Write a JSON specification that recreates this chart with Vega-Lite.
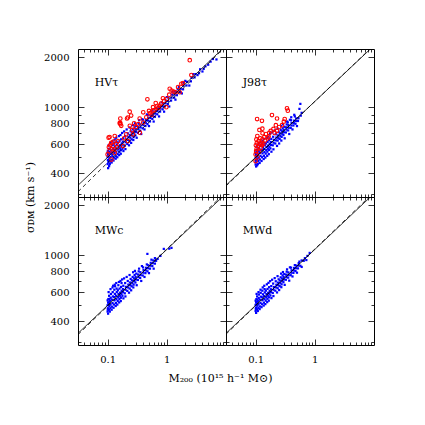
{
"$schema":"https://vega.github.io/schema/vega-lite/v6.json",
"padding":{"left":24,"top":48,"right":5,"bottom":5},
"autosize":{"type":"pad"},
"config":{"view":{"stroke":null},"font":"DejaVu Serif",
"axis":{"grid":false,"domainColor":"#000","domainWidth":1,"tickColor":"#000","tickWidth":0.8,"labelColor":"#000","labelFont":"DejaVu Serif","labelFontSize":10,"titleFont":"DejaVu Serif","titleFontWeight":"normal","titleColor":"#000","titleFontSize":11}},
"datasets":{
"lab":[{"p":"HVτ"},{"p":"J98τ"},{"p":"MWc"},{"p":"MWd"}],
"ln":[
{"p":"HVτ","k":"solid","M":0.0316228,"s":339},{"p":"HVτ","k":"solid","M":10,"s":2348},
{"p":"HVτ","k":"dashed","M":0.0316228,"s":310},{"p":"HVτ","k":"dashed","M":10,"s":2328},
{"p":"J98τ","k":"solid","M":0.0316228,"s":339},{"p":"J98τ","k":"solid","M":10,"s":2348},
{"p":"J98τ","k":"dashed","M":0.0316228,"s":336},{"p":"J98τ","k":"dashed","M":10,"s":2362},
{"p":"MWc","k":"solid","M":0.0316228,"s":339},{"p":"MWc","k":"solid","M":10,"s":2348},
{"p":"MWc","k":"dashed","M":0.0316228,"s":333},{"p":"MWc","k":"dashed","M":10,"s":2401},
{"p":"MWd","k":"solid","M":0.0316228,"s":339},{"p":"MWd","k":"solid","M":10,"s":2348},
{"p":"MWd","k":"dashed","M":0.0316228,"s":335},{"p":"MWd","k":"dashed","M":10,"s":2390}],
"b1":[{"M":0.100,"s":455},{"M":0.101,"s":482},{"M":0.100,"s":503},{"M":0.102,"s":521},{"M":0.101,"s":547},{"M":0.103,"s":468},{"M":0.104,"s":512},{"M":0.100,"s":533},
{"M":0.106,"s":442},{"M":0.107,"s":493},{"M":0.105,"s":517},{"M":0.108,"s":539},{"M":0.106,"s":562},
{"M":0.111,"s":471},{"M":0.112,"s":502},{"M":0.110,"s":526},{"M":0.113,"s":551},{"M":0.114,"s":577},
{"M":0.118,"s":483},{"M":0.121,"s":506},{"M":0.119,"s":536},{"M":0.123,"s":561},{"M":0.122,"s":592},{"M":0.120,"s":519},
{"M":0.128,"s":497},{"M":0.131,"s":531},{"M":0.129,"s":556},{"M":0.133,"s":581},{"M":0.130,"s":611},
{"M":0.138,"s":507},{"M":0.141,"s":541},{"M":0.139,"s":566},{"M":0.143,"s":596},{"M":0.142,"s":621},
{"M":0.148,"s":522},{"M":0.151,"s":556},{"M":0.153,"s":581},{"M":0.149,"s":611},
{"M":0.158,"s":537},{"M":0.161,"s":566},{"M":0.163,"s":591},{"M":0.159,"s":626},
{"M":0.168,"s":551},{"M":0.171,"s":581},{"M":0.173,"s":606},{"M":0.169,"s":641},
{"M":0.178,"s":562},{"M":0.182,"s":596},{"M":0.181,"s":621},{"M":0.184,"s":651},
{"M":0.195,"s":586},{"M":0.201,"s":616},{"M":0.204,"s":641},{"M":0.198,"s":671},
{"M":0.215,"s":601},{"M":0.221,"s":636},{"M":0.224,"s":661},{"M":0.219,"s":696},
{"M":0.236,"s":626},{"M":0.242,"s":656},{"M":0.238,"s":681},{"M":0.245,"s":716},
{"M":0.255,"s":641},{"M":0.262,"s":676},{"M":0.258,"s":701},{"M":0.265,"s":736},
{"M":0.275,"s":661},{"M":0.282,"s":696},{"M":0.279,"s":721},{"M":0.286,"s":756},
{"M":0.295,"s":676},{"M":0.302,"s":711},{"M":0.298,"s":736},{"M":0.305,"s":771},
{"M":0.325,"s":701},{"M":0.332,"s":736},{"M":0.328,"s":761},{"M":0.335,"s":796},
{"M":0.355,"s":721},{"M":0.362,"s":756},{"M":0.358,"s":786},
{"M":0.392,"s":746},{"M":0.401,"s":781},{"M":0.405,"s":811},{"M":0.398,"s":842},
{"M":0.435,"s":771},{"M":0.442,"s":806},{"M":0.447,"s":836},
{"M":0.472,"s":791},{"M":0.481,"s":831},{"M":0.485,"s":861},{"M":0.477,"s":896},
{"M":0.52,"s":821},{"M":0.53,"s":861},{"M":0.535,"s":891},
{"M":0.57,"s":851},{"M":0.58,"s":886},{"M":0.59,"s":916},{"M":0.575,"s":956},
{"M":0.63,"s":876},{"M":0.64,"s":916},{"M":0.65,"s":951},
{"M":0.69,"s":906},{"M":0.70,"s":946},{"M":0.71,"s":981},
{"M":0.77,"s":941},{"M":0.78,"s":981},{"M":0.79,"s":1016},
{"M":0.85,"s":971},{"M":0.86,"s":1011},{"M":0.87,"s":1051},
{"M":0.93,"s":1011},{"M":0.95,"s":1056},{"M":0.96,"s":1096},
{"M":1.04,"s":1046},{"M":1.05,"s":1091},{"M":1.07,"s":1141},
{"M":1.18,"s":1096},{"M":1.2,"s":1141},{"M":1.22,"s":1191},
{"M":1.33,"s":1141},{"M":1.35,"s":1191},{"M":1.38,"s":1241},
{"M":1.48,"s":1181},{"M":1.5,"s":1236},{"M":1.53,"s":1286},
{"M":1.68,"s":1231},{"M":1.72,"s":1291},
{"M":1.88,"s":1281},{"M":1.9,"s":1346},{"M":1.93,"s":1401},
{"M":2.15,"s":1351},{"M":2.2,"s":1421},
{"M":2.55,"s":1431},{"M":2.62,"s":1501},
{"M":2.95,"s":1511},{"M":3.05,"s":1581},
{"M":3.5,"s":1601},{"M":3.65,"s":1691},
{"M":4.2,"s":1701},{"M":5.0,"s":1801},{"M":6.9,"s":1937},
{"M":0.102,"s":430},{"M":0.104,"s":590},{"M":0.109,"s":455},{"M":0.112,"s":610},{"M":0.117,"s":465},{"M":0.121,"s":625},{"M":0.126,"s":478},{"M":0.132,"s":640},{"M":0.137,"s":490},{"M":0.14,"s":655},{"M":0.146,"s":500},{"M":0.155,"s":670},{"M":0.157,"s":515},{"M":0.165,"s":680},{"M":0.167,"s":525},{"M":0.176,"s":700},{"M":0.185,"s":545},{"M":0.19,"s":715},{"M":0.2,"s":560},{"M":0.21,"s":735},{"M":0.23,"s":590},{"M":0.235,"s":755},{"M":0.25,"s":610},{"M":0.27,"s":780},{"M":0.272,"s":635},{"M":0.29,"s":800},{"M":0.31,"s":655},{"M":0.34,"s":835},{"M":0.37,"s":690},{"M":0.38,"s":845},{"M":0.42,"s":735},{"M":0.46,"s":905},{"M":0.5,"s":770},{"M":0.55,"s":950},{"M":0.6,"s":820},{"M":0.66,"s":990},{"M":0.74,"s":880},{"M":0.82,"s":1070},{"M":0.9,"s":940},{"M":1.0,"s":1150},{"M":1.1,"s":1010},{"M":1.25,"s":1240},{"M":1.4,"s":1110},{"M":1.6,"s":1320},{"M":1.8,"s":1210},{"M":2.05,"s":1440},{"M":2.4,"s":1350},{"M":2.8,"s":1580},{"M":3.3,"s":1560},{"M":4.5,"s":1760},{"M":5.5,"s":1880},{"M":4.0,"s":1640},{"M":6.0,"s":1950}],
"r1":[{"M":2.44,"s":1919},{"M":0.47,"s":1115},{"M":1.12,"s":1291},{"M":0.86,"s":1132},{"M":0.585,"s":1000},{"M":0.59,"s":953},{"M":0.236,"s":940},{"M":0.22,"s":867},{"M":0.164,"s":855},{"M":0.16,"s":801},{"M":0.213,"s":855},{"M":0.25,"s":890},{"M":0.165,"s":790},{"M":0.348,"s":855},{"M":0.40,"s":931},{"M":1.55,"s":1321},{"M":1.76,"s":1384},{"M":1.65,"s":1230},{"M":1.4,"s":1230},{"M":0.76,"s":1021},{"M":0.98,"s":1000},
{"M":0.104,"s":656},{"M":0.108,"s":662},{"M":0.132,"s":671},{"M":0.15,"s":626},{"M":0.163,"s":809},{"M":0.17,"s":773},{"M":0.237,"s":773},{"M":0.207,"s":687},{"M":0.268,"s":687},{"M":0.35,"s":703},{"M":0.40,"s":809},{"M":0.108,"s":545},{"M":0.116,"s":484},{"M":0.132,"s":531},{"M":0.182,"s":584},{"M":0.22,"s":626},
{"M":0.3,"s":760},{"M":0.33,"s":790},{"M":0.45,"s":870},{"M":0.52,"s":920},{"M":0.55,"s":900},{"M":0.62,"s":960},{"M":0.68,"s":1010},{"M":0.72,"s":990},{"M":0.8,"s":1050},{"M":0.9,"s":1090},{"M":1.0,"s":1120},{"M":1.2,"s":1260},{"M":1.3,"s":1240},{"M":0.12,"s":560},{"M":0.14,"s":600},{"M":0.11,"s":590},{"M":0.125,"s":620},{"M":0.19,"s":650},{"M":0.26,"s":730},{"M":0.5,"s":950},{"M":0.28,"s":800},{"M":0.145,"s":575},{"M":0.1,"s":520},{"M":0.105,"s":575},{"M":0.115,"s":610},{"M":0.13,"s":560},{"M":1.88,"s":1397},{"M":2.6,"s":1560},{"M":1.1,"s":1190},{"M":0.65,"s":1060}],
"b2":[{"M":0.100,"s":452},{"M":0.101,"s":478},{"M":0.100,"s":497},{"M":0.102,"s":515},{"M":0.103,"s":538},{"M":0.101,"s":466},{"M":0.104,"s":505},{"M":0.100,"s":528},
{"M":0.106,"s":447},{"M":0.107,"s":488},{"M":0.105,"s":512},{"M":0.108,"s":535},{"M":0.106,"s":556},
{"M":0.111,"s":474},{"M":0.112,"s":498},{"M":0.110,"s":521},{"M":0.113,"s":546},{"M":0.114,"s":570},
{"M":0.118,"s":485},{"M":0.121,"s":510},{"M":0.119,"s":532},{"M":0.123,"s":556},{"M":0.122,"s":585},
{"M":0.128,"s":500},{"M":0.131,"s":528},{"M":0.129,"s":552},{"M":0.133,"s":576},{"M":0.130,"s":603},
{"M":0.138,"s":510},{"M":0.141,"s":538},{"M":0.139,"s":561},{"M":0.143,"s":590},{"M":0.142,"s":612},
{"M":0.148,"s":526},{"M":0.151,"s":552},{"M":0.153,"s":577},{"M":0.149,"s":605},
{"M":0.158,"s":540},{"M":0.161,"s":563},{"M":0.163,"s":588},{"M":0.159,"s":618},
{"M":0.168,"s":553},{"M":0.171,"s":578},{"M":0.173,"s":602},{"M":0.169,"s":633},
{"M":0.178,"s":565},{"M":0.182,"s":593},{"M":0.181,"s":617},{"M":0.184,"s":645},
{"M":0.195,"s":590},{"M":0.201,"s":612},{"M":0.204,"s":637},{"M":0.198,"s":664},
{"M":0.215,"s":605},{"M":0.221,"s":632},{"M":0.224,"s":657},{"M":0.219,"s":688},
{"M":0.236,"s":630},{"M":0.242,"s":653},{"M":0.238,"s":677},{"M":0.245,"s":708},
{"M":0.255,"s":645},{"M":0.262,"s":672},{"M":0.258,"s":697},{"M":0.265,"s":728},
{"M":0.275,"s":663},{"M":0.282,"s":692},{"M":0.279,"s":716},{"M":0.286,"s":747},
{"M":0.295,"s":680},{"M":0.302,"s":707},{"M":0.298,"s":731},{"M":0.305,"s":762},
{"M":0.325,"s":705},{"M":0.332,"s":733},{"M":0.328,"s":757},{"M":0.335,"s":788},
{"M":0.355,"s":725},{"M":0.362,"s":752},{"M":0.358,"s":780},
{"M":0.392,"s":750},{"M":0.401,"s":777},{"M":0.405,"s":805},{"M":0.398,"s":835},
{"M":0.435,"s":776},{"M":0.442,"s":803},{"M":0.447,"s":830},
{"M":0.472,"s":795},{"M":0.481,"s":826},{"M":0.485,"s":856},
{"M":0.52,"s":826},{"M":0.53,"s":858},{"M":0.55,"s":977},
{"M":0.57,"s":1047},{"M":0.58,"s":890},{"M":0.6,"s":925},
{"M":0.102,"s":440},{"M":0.104,"s":580},{"M":0.109,"s":455},{"M":0.112,"s":600},{"M":0.117,"s":462},{"M":0.121,"s":615},{"M":0.126,"s":475},{"M":0.132,"s":630},{"M":0.137,"s":488},{"M":0.14,"s":645},{"M":0.146,"s":498},{"M":0.155,"s":655},{"M":0.157,"s":510},{"M":0.165,"s":665},{"M":0.167,"s":522},{"M":0.176,"s":690},{"M":0.185,"s":540},{"M":0.19,"s":705},{"M":0.2,"s":558},{"M":0.21,"s":725},{"M":0.23,"s":585},{"M":0.235,"s":745},{"M":0.25,"s":605},{"M":0.27,"s":770},{"M":0.272,"s":630},{"M":0.29,"s":790},{"M":0.31,"s":650},{"M":0.34,"s":820},{"M":0.37,"s":690},{"M":0.38,"s":840},{"M":0.42,"s":735},{"M":0.46,"s":880},{"M":0.5,"s":770},{"M":0.45,"s":900},{"M":0.4,"s":870},{"M":0.35,"s":810}],
"r2":[{"M":0.106,"s":848},{"M":0.128,"s":828},{"M":0.189,"s":897},{"M":0.23,"s":855},{"M":0.339,"s":984},{"M":0.35,"s":953},{"M":0.31,"s":848},{"M":0.116,"s":730},{"M":0.13,"s":743},{"M":0.23,"s":720},{"M":0.131,"s":697},{"M":0.166,"s":665},{"M":0.1,"s":473},
{"M":0.100,"s":520},{"M":0.102,"s":545},{"M":0.104,"s":560},{"M":0.101,"s":590},{"M":0.105,"s":610},{"M":0.108,"s":500},{"M":0.11,"s":580},{"M":0.112,"s":625},{"M":0.115,"s":540},{"M":0.118,"s":600},{"M":0.12,"s":650},{"M":0.122,"s":570},{"M":0.125,"s":610},{"M":0.128,"s":590},{"M":0.13,"s":640},{"M":0.135,"s":600},{"M":0.14,"s":660},{"M":0.145,"s":630},{"M":0.15,"s":690},{"M":0.16,"s":650},{"M":0.17,"s":700},{"M":0.18,"s":720},{"M":0.2,"s":740},{"M":0.21,"s":700},{"M":0.25,"s":760},{"M":0.28,"s":780},{"M":0.3,"s":820},{"M":0.22,"s":780},{"M":0.103,"s":640},{"M":0.107,"s":670}],
"b3":[{"M":0.100,"s":458},{"M":0.101,"s":480},{"M":0.100,"s":500},{"M":0.102,"s":520},{"M":0.103,"s":545},{"M":0.101,"s":470},{"M":0.104,"s":510},{"M":0.100,"s":535},
{"M":0.106,"s":470},{"M":0.107,"s":495},{"M":0.105,"s":520},{"M":0.108,"s":545},{"M":0.106,"s":570},
{"M":0.111,"s":480},{"M":0.112,"s":505},{"M":0.110,"s":530},{"M":0.113,"s":555},{"M":0.114,"s":585},
{"M":0.118,"s":490},{"M":0.121,"s":515},{"M":0.119,"s":540},{"M":0.123,"s":565},{"M":0.122,"s":600},{"M":0.124,"s":655},
{"M":0.128,"s":505},{"M":0.131,"s":535},{"M":0.129,"s":560},{"M":0.133,"s":585},{"M":0.130,"s":620},{"M":0.134,"s":650},
{"M":0.138,"s":515},{"M":0.141,"s":545},{"M":0.139,"s":570},{"M":0.143,"s":600},{"M":0.142,"s":630},
{"M":0.148,"s":530},{"M":0.151,"s":560},{"M":0.153,"s":585},{"M":0.149,"s":615},{"M":0.152,"s":660},
{"M":0.158,"s":545},{"M":0.161,"s":570},{"M":0.163,"s":595},{"M":0.159,"s":630},
{"M":0.168,"s":555},{"M":0.171,"s":585},{"M":0.173,"s":610},{"M":0.169,"s":645},{"M":0.172,"s":680},
{"M":0.178,"s":570},{"M":0.182,"s":600},{"M":0.181,"s":625},{"M":0.184,"s":655},
{"M":0.195,"s":590},{"M":0.201,"s":620},{"M":0.204,"s":645},{"M":0.198,"s":680},
{"M":0.215,"s":610},{"M":0.221,"s":640},{"M":0.224,"s":665},{"M":0.219,"s":700},
{"M":0.236,"s":630},{"M":0.242,"s":660},{"M":0.238,"s":685},{"M":0.245,"s":720},
{"M":0.255,"s":650},{"M":0.262,"s":680},{"M":0.258,"s":705},{"M":0.265,"s":740},
{"M":0.275,"s":665},{"M":0.282,"s":700},{"M":0.279,"s":725},{"M":0.286,"s":760},
{"M":0.295,"s":685},{"M":0.302,"s":715},{"M":0.298,"s":740},{"M":0.305,"s":775},
{"M":0.325,"s":710},{"M":0.332,"s":740},{"M":0.328,"s":765},{"M":0.335,"s":800},
{"M":0.355,"s":730},{"M":0.362,"s":760},{"M":0.358,"s":790},
{"M":0.392,"s":755},{"M":0.401,"s":785},{"M":0.405,"s":815},{"M":0.398,"s":845},
{"M":0.435,"s":780},{"M":0.442,"s":810},{"M":0.447,"s":840},
{"M":0.472,"s":800},{"M":0.481,"s":835},{"M":0.485,"s":870},
{"M":0.52,"s":830},{"M":0.53,"s":865},{"M":0.535,"s":900},
{"M":0.57,"s":860},{"M":0.58,"s":895},{"M":0.59,"s":930},
{"M":0.63,"s":890},{"M":0.64,"s":925},{"M":0.47,"s":1018},{"M":0.66,"s":926},
{"M":0.7,"s":950},{"M":0.78,"s":990},{"M":0.89,"s":1091},{"M":1.1,"s":1095},{"M":1.2,"s":1107},
{"M":0.102,"s":445},{"M":0.104,"s":600},{"M":0.109,"s":458},{"M":0.112,"s":625},{"M":0.117,"s":470},{"M":0.121,"s":640},{"M":0.126,"s":483},{"M":0.132,"s":665},{"M":0.137,"s":495},{"M":0.14,"s":680},{"M":0.146,"s":505},{"M":0.155,"s":690},{"M":0.157,"s":520},{"M":0.165,"s":700},{"M":0.167,"s":530},{"M":0.176,"s":715},{"M":0.185,"s":550},{"M":0.19,"s":725},{"M":0.2,"s":565},{"M":0.21,"s":740},{"M":0.23,"s":595},{"M":0.235,"s":760},{"M":0.25,"s":615},{"M":0.27,"s":790},{"M":0.272,"s":640},{"M":0.29,"s":805},{"M":0.31,"s":660},{"M":0.34,"s":830},{"M":0.37,"s":700},{"M":0.38,"s":860},{"M":0.42,"s":740},{"M":0.46,"s":880},{"M":0.5,"s":780},{"M":0.55,"s":940},{"M":0.6,"s":830},{"M":0.63,"s":960}],
"b4":[{"M":0.100,"s":462},{"M":0.101,"s":485},{"M":0.100,"s":503},{"M":0.102,"s":522},{"M":0.103,"s":544},{"M":0.101,"s":474},{"M":0.104,"s":512},{"M":0.100,"s":533},
{"M":0.106,"s":472},{"M":0.107,"s":497},{"M":0.105,"s":520},{"M":0.108,"s":541},{"M":0.106,"s":565},
{"M":0.111,"s":482},{"M":0.112,"s":507},{"M":0.110,"s":529},{"M":0.113,"s":553},{"M":0.114,"s":580},
{"M":0.118,"s":492},{"M":0.121,"s":517},{"M":0.119,"s":540},{"M":0.123,"s":563},{"M":0.122,"s":594},
{"M":0.128,"s":507},{"M":0.131,"s":536},{"M":0.129,"s":558},{"M":0.133,"s":582},{"M":0.130,"s":612},
{"M":0.138,"s":518},{"M":0.141,"s":546},{"M":0.139,"s":568},{"M":0.143,"s":597},{"M":0.142,"s":625},
{"M":0.148,"s":533},{"M":0.151,"s":560},{"M":0.153,"s":584},{"M":0.149,"s":612},
{"M":0.158,"s":547},{"M":0.161,"s":571},{"M":0.163,"s":594},{"M":0.159,"s":627},
{"M":0.168,"s":558},{"M":0.171,"s":586},{"M":0.173,"s":609},{"M":0.169,"s":642},
{"M":0.178,"s":572},{"M":0.182,"s":600},{"M":0.181,"s":624},{"M":0.184,"s":652},
{"M":0.195,"s":593},{"M":0.201,"s":620},{"M":0.204,"s":644},{"M":0.198,"s":675},
{"M":0.215,"s":612},{"M":0.221,"s":640},{"M":0.224,"s":664},{"M":0.219,"s":697},
{"M":0.236,"s":633},{"M":0.242,"s":660},{"M":0.238,"s":684},{"M":0.245,"s":716},
{"M":0.255,"s":652},{"M":0.262,"s":680},{"M":0.258,"s":704},{"M":0.265,"s":736},
{"M":0.275,"s":668},{"M":0.282,"s":700},{"M":0.279,"s":724},{"M":0.286,"s":756},
{"M":0.295,"s":688},{"M":0.302,"s":715},{"M":0.298,"s":739},{"M":0.305,"s":770},
{"M":0.325,"s":712},{"M":0.332,"s":740},{"M":0.328,"s":764},{"M":0.335,"s":796},
{"M":0.355,"s":733},{"M":0.362,"s":760},{"M":0.358,"s":788},
{"M":0.392,"s":758},{"M":0.401,"s":785},{"M":0.405,"s":812},{"M":0.398,"s":842},
{"M":0.435,"s":783},{"M":0.442,"s":810},{"M":0.447,"s":838},
{"M":0.472,"s":803},{"M":0.481,"s":835},{"M":0.485,"s":866},
{"M":0.52,"s":833},{"M":0.53,"s":866},{"M":0.535,"s":897},
{"M":0.57,"s":864},{"M":0.6,"s":930},{"M":0.65,"s":925},{"M":0.75,"s":990},{"M":0.82,"s":1032},
{"M":0.102,"s":450},{"M":0.104,"s":585},{"M":0.109,"s":462},{"M":0.112,"s":600},{"M":0.117,"s":474},{"M":0.121,"s":620},{"M":0.126,"s":487},{"M":0.132,"s":640},{"M":0.137,"s":498},{"M":0.14,"s":655},{"M":0.146,"s":508},{"M":0.155,"s":668},{"M":0.157,"s":522},{"M":0.165,"s":682},{"M":0.167,"s":533},{"M":0.176,"s":698},{"M":0.185,"s":552},{"M":0.19,"s":712},{"M":0.2,"s":568},{"M":0.21,"s":728},{"M":0.23,"s":597},{"M":0.235,"s":748},{"M":0.25,"s":617},{"M":0.27,"s":775},{"M":0.272,"s":642},{"M":0.29,"s":792},{"M":0.31,"s":663},{"M":0.34,"s":822},{"M":0.37,"s":703},{"M":0.38,"s":845},{"M":0.42,"s":745},{"M":0.46,"s":872},{"M":0.5,"s":785},{"M":0.55,"s":915},{"M":0.6,"s":850},{"M":0.68,"s":960},{"M":0.72,"s":935}]
},
"columns":2,"spacing":0,"bounds":"flush",
"concat":[
{"width":148,"height":148,
"layer":[
{"data":{"name":"b1"},"mark":{"type":"square","size":5,"color":"#0000ff","opacity":1},
"encoding":{"x":{"field":"M","type":"quantitative","scale":{"type":"log","domain":[0.0316228,10],"nice":false},
"axis":{"orient":"bottom","values":[0.04,0.05,0.06,0.07,0.08,0.09,0.1,0.2,0.3,0.4,0.5,0.6,0.7,0.8,0.9,1,2,3,4,5,6,7,8,9],"labels":false,"title":null,"tickSize":{"condition":{"test":"datum.value==0.1||datum.value==1","value":-6},"value":-3}}},
"y":{"field":"s","type":"quantitative","scale":{"type":"log","domain":[288.4,2238.7],"nice":false,"zero":false},
"axis":{"orient":"left","values":[300,400,500,600,700,800,900,1000,2000],"labelExpr":"(datum.value==300||datum.value==500||datum.value==700||datum.value==900)?'':''+datum.value","labelPadding":15,"title":null,"tickSize":{"condition":{"test":"datum.value==400||datum.value==600||datum.value==800||datum.value==1000||datum.value==2000","value":-6},"value":-3}}}}},
{"data":{"name":"r1"},"mark":{"type":"point","shape":"circle","size":13,"color":"#ff0000","strokeWidth":1.1,"filled":false,"opacity":1},
"encoding":{"x":{"field":"M","type":"quantitative","axis":null},"y":{"field":"s","type":"quantitative","axis":null}}},
{"data":{"name":"ln"},"transform":[{"filter":"datum.p=='HVτ' && datum.k=='solid'"}],"mark":{"type":"line","color":"#000","strokeWidth":0.8,"clip":true},
"encoding":{"x":{"field":"M","type":"quantitative","axis":{"orient":"top","values":[0.04,0.05,0.06,0.07,0.08,0.09,0.1,0.2,0.3,0.4,0.5,0.6,0.7,0.8,0.9,1,2,3,4,5,6,7,8,9],"labels":false,"title":null,"tickSize":{"condition":{"test":"datum.value==0.1||datum.value==1","value":-6},"value":-3}}},
"y":{"field":"s","type":"quantitative","axis":{"orient":"right","values":[300,400,500,600,700,800,900,1000,2000],"labels":false,"title":null,"tickSize":{"condition":{"test":"datum.value==400||datum.value==600||datum.value==800||datum.value==1000||datum.value==2000","value":-6},"value":-3}}}}},
{"data":{"name":"ln"},"transform":[{"filter":"datum.p=='HVτ' && datum.k=='dashed'"}],"mark":{"type":"line","color":"#000","strokeWidth":0.8,"strokeDash":[4,3],"clip":true},
"encoding":{"x":{"field":"M","type":"quantitative","axis":null},"y":{"field":"s","type":"quantitative","axis":null}}},
{"data":{"name":"lab"},"transform":[{"filter":"datum.p=='HVτ'"}],"mark":{"type":"text","align":"left","baseline":"alphabetic","font":"DejaVu Serif","fontSize":11,"color":"#000"},
"encoding":{"x":{"datum":0.0605,"type":"quantitative","axis":null},"y":{"datum":1333,"type":"quantitative","axis":null},"text":{"field":"p"}}}
],
"resolve":{"axis":{"x":"independent","y":"independent"}}},
{"width":148,"height":148,
"layer":[
{"data":{"name":"b2"},"mark":{"type":"square","size":5,"color":"#0000ff","opacity":1},
"encoding":{"x":{"field":"M","type":"quantitative","scale":{"type":"log","domain":[0.0316228,10],"nice":false},
"axis":{"orient":"bottom","values":[0.04,0.05,0.06,0.07,0.08,0.09,0.1,0.2,0.3,0.4,0.5,0.6,0.7,0.8,0.9,1,2,3,4,5,6,7,8,9],"labels":false,"title":null,"tickSize":{"condition":{"test":"datum.value==0.1||datum.value==1","value":-6},"value":-3}}},
"y":{"field":"s","type":"quantitative","scale":{"type":"log","domain":[288.4,2238.7],"nice":false,"zero":false},
"axis":{"orient":"left","values":[300,400,500,600,700,800,900,1000,2000],"labels":false,"title":null,"tickSize":{"condition":{"test":"datum.value==400||datum.value==600||datum.value==800||datum.value==1000||datum.value==2000","value":-6},"value":-3}}}}},
{"data":{"name":"r2"},"mark":{"type":"point","shape":"circle","size":13,"color":"#ff0000","strokeWidth":1.1,"filled":false,"opacity":1},
"encoding":{"x":{"field":"M","type":"quantitative","axis":null},"y":{"field":"s","type":"quantitative","axis":null}}},
{"data":{"name":"ln"},"transform":[{"filter":"datum.p=='J98τ' && datum.k=='solid'"}],"mark":{"type":"line","color":"#000","strokeWidth":0.8,"clip":true},
"encoding":{"x":{"field":"M","type":"quantitative","axis":{"orient":"top","values":[0.04,0.05,0.06,0.07,0.08,0.09,0.1,0.2,0.3,0.4,0.5,0.6,0.7,0.8,0.9,1,2,3,4,5,6,7,8,9],"labels":false,"title":null,"tickSize":{"condition":{"test":"datum.value==0.1||datum.value==1","value":-6},"value":-3}}},
"y":{"field":"s","type":"quantitative","axis":{"orient":"right","values":[300,400,500,600,700,800,900,1000,2000],"labels":false,"title":null,"tickSize":{"condition":{"test":"datum.value==400||datum.value==600||datum.value==800||datum.value==1000||datum.value==2000","value":-6},"value":-3}}}}},
{"data":{"name":"ln"},"transform":[{"filter":"datum.p=='J98τ' && datum.k=='dashed'"}],"mark":{"type":"line","color":"#000","strokeWidth":0.8,"strokeDash":[4,3],"clip":true},
"encoding":{"x":{"field":"M","type":"quantitative","axis":null},"y":{"field":"s","type":"quantitative","axis":null}}},
{"data":{"name":"lab"},"transform":[{"filter":"datum.p=='J98τ'"}],"mark":{"type":"text","align":"left","baseline":"alphabetic","font":"DejaVu Serif","fontSize":11,"color":"#000"},
"encoding":{"x":{"datum":0.0605,"type":"quantitative","axis":null},"y":{"datum":1333,"type":"quantitative","axis":null},"text":{"field":"p"}}}
],
"resolve":{"axis":{"x":"independent","y":"independent"}}},
{"width":148,"height":148,
"layer":[
{"data":{"name":"b3"},"mark":{"type":"square","size":5,"color":"#0000ff","opacity":1},
"encoding":{"x":{"field":"M","type":"quantitative","scale":{"type":"log","domain":[0.0316228,10],"nice":false},
"axis":{"orient":"bottom","values":[0.04,0.05,0.06,0.07,0.08,0.09,0.1,0.2,0.3,0.4,0.5,0.6,0.7,0.8,0.9,1,2,3,4,5,6,7,8,9],"labelExpr":"datum.value==0.1?'0.1':(datum.value==1?'1':'')","labelPadding":15,"title":"M₂₀₀ (10¹⁵ h⁻¹ M⊙)","titleX":142,"titlePadding":8,"tickSize":{"condition":{"test":"datum.value==0.1||datum.value==1","value":-6},"value":-3}}},
"y":{"field":"s","type":"quantitative","scale":{"type":"log","domain":[288.4,2238.7],"nice":false,"zero":false},
"axis":{"orient":"left","values":[300,400,500,600,700,800,900,1000,2000],"labelExpr":"(datum.value==300||datum.value==500||datum.value==700||datum.value==900)?'':''+datum.value","labelPadding":15,"title":"σᴅᴍ (km s⁻¹)","titleY":0,"titlePadding":8,"tickSize":{"condition":{"test":"datum.value==400||datum.value==600||datum.value==800||datum.value==1000||datum.value==2000","value":-6},"value":-3}}}}},
{"data":{"name":"ln"},"transform":[{"filter":"datum.p=='MWc' && datum.k=='solid'"}],"mark":{"type":"line","color":"#000","strokeWidth":0.8,"clip":true},
"encoding":{"x":{"field":"M","type":"quantitative","axis":{"orient":"top","values":[0.04,0.05,0.06,0.07,0.08,0.09,0.1,0.2,0.3,0.4,0.5,0.6,0.7,0.8,0.9,1,2,3,4,5,6,7,8,9],"labels":false,"title":null,"tickSize":{"condition":{"test":"datum.value==0.1||datum.value==1","value":-6},"value":-3}}},
"y":{"field":"s","type":"quantitative","axis":{"orient":"right","values":[300,400,500,600,700,800,900,1000,2000],"labels":false,"title":null,"tickSize":{"condition":{"test":"datum.value==400||datum.value==600||datum.value==800||datum.value==1000||datum.value==2000","value":-6},"value":-3}}}}},
{"data":{"name":"ln"},"transform":[{"filter":"datum.p=='MWc' && datum.k=='dashed'"}],"mark":{"type":"line","color":"#000","strokeWidth":0.8,"strokeDash":[4,3],"clip":true},
"encoding":{"x":{"field":"M","type":"quantitative","axis":null},"y":{"field":"s","type":"quantitative","axis":null}}},
{"data":{"name":"lab"},"transform":[{"filter":"datum.p=='MWc'"}],"mark":{"type":"text","align":"left","baseline":"alphabetic","font":"DejaVu Serif","fontSize":11,"color":"#000"},
"encoding":{"x":{"datum":0.0605,"type":"quantitative","axis":null},"y":{"datum":1333,"type":"quantitative","axis":null},"text":{"field":"p"}}}
],
"resolve":{"axis":{"x":"independent","y":"independent"}}},
{"width":148,"height":148,
"layer":[
{"data":{"name":"b4"},"mark":{"type":"square","size":5,"color":"#0000ff","opacity":1},
"encoding":{"x":{"field":"M","type":"quantitative","scale":{"type":"log","domain":[0.0316228,10],"nice":false},
"axis":{"orient":"bottom","values":[0.04,0.05,0.06,0.07,0.08,0.09,0.1,0.2,0.3,0.4,0.5,0.6,0.7,0.8,0.9,1,2,3,4,5,6,7,8,9],"labelExpr":"datum.value==0.1?'0.1':(datum.value==1?'1':'')","labelPadding":15,"title":null,"tickSize":{"condition":{"test":"datum.value==0.1||datum.value==1","value":-6},"value":-3}}},
"y":{"field":"s","type":"quantitative","scale":{"type":"log","domain":[288.4,2238.7],"nice":false,"zero":false},
"axis":{"orient":"left","values":[300,400,500,600,700,800,900,1000,2000],"labels":false,"title":null,"tickSize":{"condition":{"test":"datum.value==400||datum.value==600||datum.value==800||datum.value==1000||datum.value==2000","value":-6},"value":-3}}}}},
{"data":{"name":"ln"},"transform":[{"filter":"datum.p=='MWd' && datum.k=='solid'"}],"mark":{"type":"line","color":"#000","strokeWidth":0.8,"clip":true},
"encoding":{"x":{"field":"M","type":"quantitative","axis":{"orient":"top","values":[0.04,0.05,0.06,0.07,0.08,0.09,0.1,0.2,0.3,0.4,0.5,0.6,0.7,0.8,0.9,1,2,3,4,5,6,7,8,9],"labels":false,"title":null,"tickSize":{"condition":{"test":"datum.value==0.1||datum.value==1","value":-6},"value":-3}}},
"y":{"field":"s","type":"quantitative","axis":{"orient":"right","values":[300,400,500,600,700,800,900,1000,2000],"labels":false,"title":null,"tickSize":{"condition":{"test":"datum.value==400||datum.value==600||datum.value==800||datum.value==1000||datum.value==2000","value":-6},"value":-3}}}}},
{"data":{"name":"ln"},"transform":[{"filter":"datum.p=='MWd' && datum.k=='dashed'"}],"mark":{"type":"line","color":"#000","strokeWidth":0.8,"strokeDash":[4,3],"clip":true},
"encoding":{"x":{"field":"M","type":"quantitative","axis":null},"y":{"field":"s","type":"quantitative","axis":null}}},
{"data":{"name":"lab"},"transform":[{"filter":"datum.p=='MWd'"}],"mark":{"type":"text","align":"left","baseline":"alphabetic","font":"DejaVu Serif","fontSize":11,"color":"#000"},
"encoding":{"x":{"datum":0.0605,"type":"quantitative","axis":null},"y":{"datum":1333,"type":"quantitative","axis":null},"text":{"field":"p"}}}
],
"resolve":{"axis":{"x":"independent","y":"independent"}}}
]
}
